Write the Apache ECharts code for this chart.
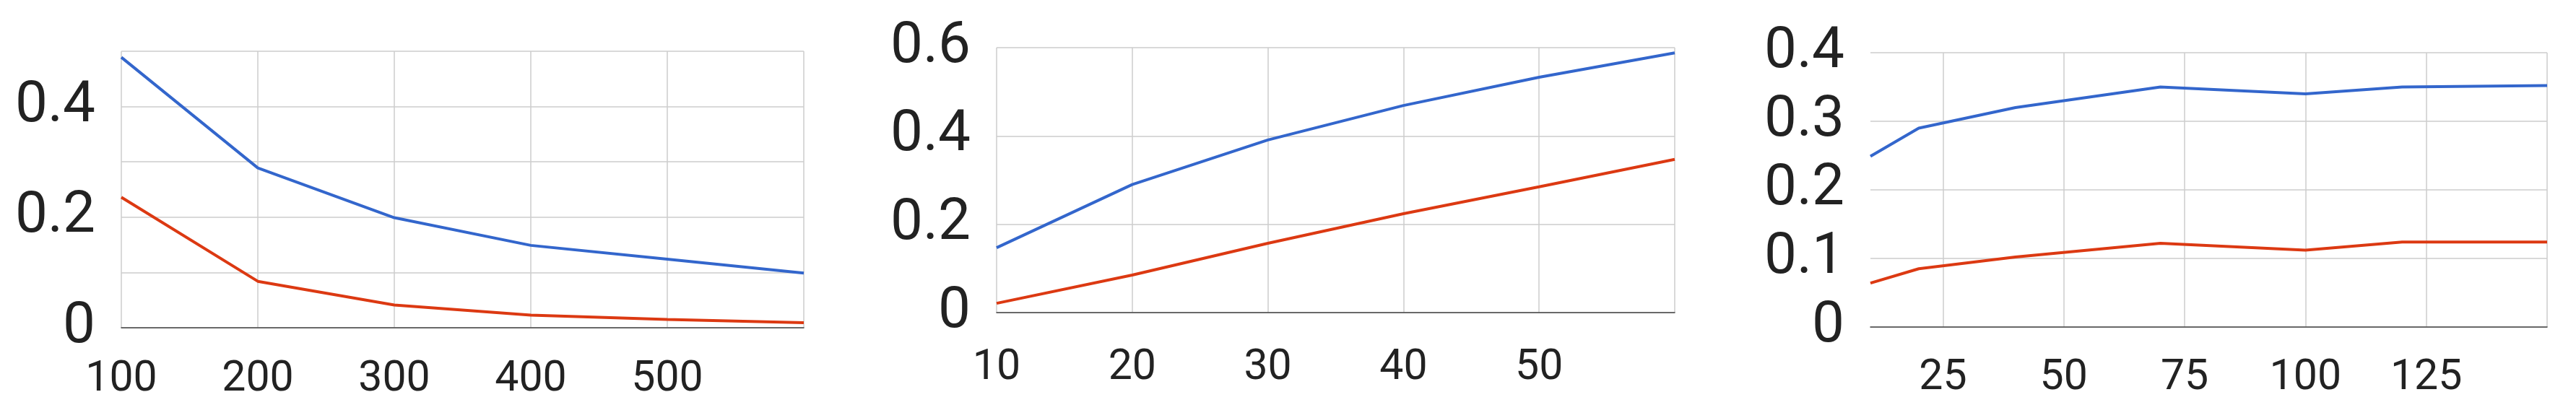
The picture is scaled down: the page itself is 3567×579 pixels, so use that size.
<!DOCTYPE html>
<html>
<head>
<meta charset="utf-8">
<script src="https://cdn.jsdelivr.net/npm/echarts@6/dist/echarts.min.js"></script>
<style>
  html, body { margin: 0; padding: 0; background: #fff; }
  #chart { width: 3567px; height: 579px; }
</style>
</head>
<body>
<div id="chart"></div>
<script>
// panel 1
const x1 = [100, 200, 300, 400, 500, 600];
const blue1 = [0.489, 0.289, 0.199, 0.149, 0.124, 0.099];
const red1 = [0.236, 0.084, 0.041, 0.023, 0.015, 0.009];
const xTicks1 = [100, 200, 300, 400, 500, 600];
const xLabels1 = [100, 200, 300, 400, 500];
const yLabels1 = [0, 0.2, 0.4];

// panel 2
const x2 = [10, 20, 30, 40, 50, 60];
const blue2 = [0.147, 0.290, 0.391, 0.469, 0.533, 0.588];
const red2 = [0.021, 0.085, 0.157, 0.224, 0.285, 0.347];
const xTicks2 = [10, 20, 30, 40, 50, 60];
const xLabels2 = [10, 20, 30, 40, 50];
const yLabels2 = [0, 0.2, 0.4, 0.6];

// panel 3
const x3 = [10, 20, 40, 70, 100, 120, 150];
const blue3 = [0.249, 0.290, 0.320, 0.350, 0.340, 0.350, 0.352];
const red3 = [0.064, 0.085, 0.102, 0.122, 0.112, 0.124, 0.124];
const xTicks3 = [25, 50, 75, 100, 125, 150];
const xLabels3 = [25, 50, 75, 100, 125];
const yLabels3 = [0, 0.1, 0.2, 0.3, 0.4];

const BLUE = '#3366cc';
const RED = '#dc3912';
const font = 'Roboto';

const panels = [
  { x: x1, blue: blue1, red: red1, xt: xTicks1, xl: xLabels1, yl: yLabels1,
    xMin: 100, xMax: 600, yMax: 0.5, yStep: 0.1, xMargin: 43,
    grid: { left: 168, top: 71, width: 945, height: 383 } },
  { x: x2, blue: blue2, red: red2, xt: xTicks2, xl: xLabels2, yl: yLabels2,
    xMin: 10, xMax: 60, yMax: 0.6, yStep: 0.2, xMargin: 48,
    grid: { left: 1380, top: 66, width: 939, height: 367 } },
  { x: x3, blue: blue3, red: red3, xt: xTicks3, xl: xLabels3, yl: yLabels3,
    xMin: 10, xMax: 150, yMax: 0.4, yStep: 0.1, xMargin: 42,
    grid: { left: 2590, top: 73, width: 937, height: 380 } },
];

const hasLabel = (list, v) => list.some(t => Math.abs(t - v) < 1e-9);

const chart = echarts.init(document.getElementById('chart'));

const option = {
  animation: false,
  backgroundColor: '#fff',
  grid: panels.map(p => Object.assign({ containLabel: false }, p.grid)),
  xAxis: panels.map((p, i) => ({
    type: 'value',
    gridIndex: i,
    min: p.xMin,
    max: p.xMax,
    axisLine: { show: true, onZero: false, lineStyle: { color: '#444', width: 1.5 } },
    axisTick: { show: false, customValues: p.xt },
    splitLine: { show: true, lineStyle: { color: '#ccc', width: 1.5 } },
    axisLabel: {
      margin: p.xMargin,
      fontFamily: font,
      fontSize: 59,
      color: '#222',
      customValues: p.xl
    }
  })),
  yAxis: panels.map((p, i) => ({
    type: 'value',
    gridIndex: i,
    min: 0,
    max: p.yMax,
    interval: p.yStep,
    axisLine: { show: false },
    axisTick: { show: false },
    splitLine: { show: true, lineStyle: { color: '#ccc', width: 1.5 } },
    axisLabel: {
      margin: 36,
      fontFamily: font,
      fontSize: 80,
      color: '#222',
      formatter: v => hasLabel(p.yl, v) ? String(Math.round(v * 10) / 10) : ''
    }
  })),
  series: panels.flatMap((p, i) => [
    {
      type: 'line', xAxisIndex: i, yAxisIndex: i,
      symbol: 'none', z: 3,
      lineStyle: { color: RED, width: 4 },
      data: p.x.map((x, k) => [x, p.red[k]])
    },
    {
      type: 'line', xAxisIndex: i, yAxisIndex: i,
      symbol: 'none', z: 4,
      lineStyle: { color: BLUE, width: 4 },
      data: p.x.map((x, k) => [x, p.blue[k]])
    }
  ])
};

chart.setOption(option);
</script>
</body>
</html>
